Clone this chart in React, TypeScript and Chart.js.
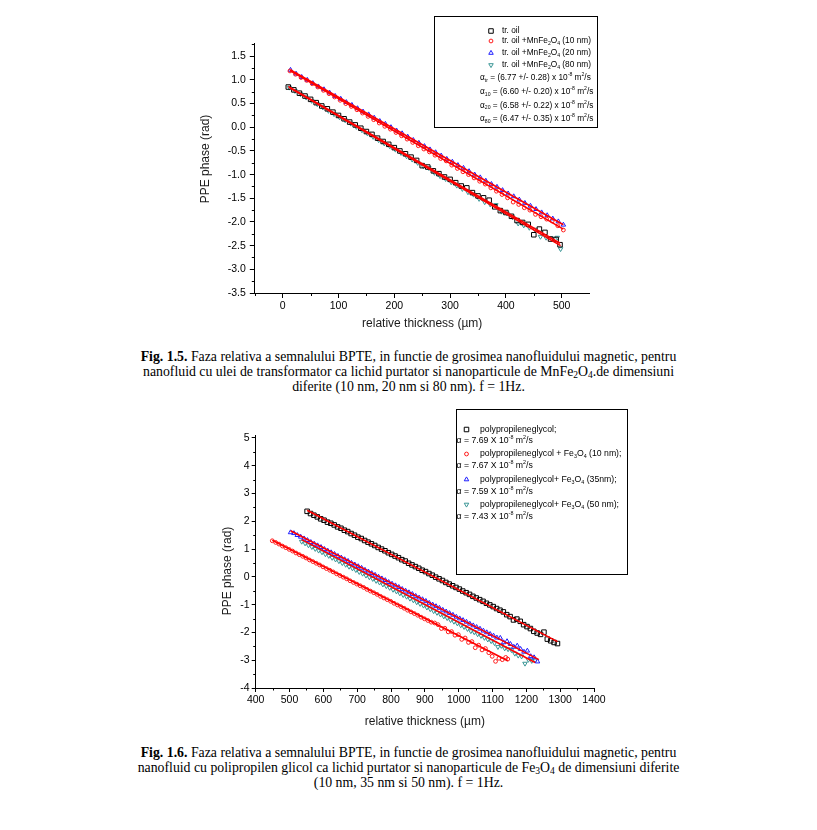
import React, { useEffect, useRef } from 'react';
import { Chart, registerables } from 'chart.js';

Chart.register(...registerables);

const FONT = "'Liberation Sans', Arial, Helvetica, sans-serif";

// ---------------- Fig. 1.5 data ----------------
const oilX = [10,20,30,40,50,60,70,80,90,100,110,120,130,140,150,160,170,180,190,200,210,220,230,240,250,260,270,280,290,300,310,320,330,340,350,360,370,380,390,400,410,420,430,440,450,460,470,480,490,497];
const oilY = [0.85,0.79,0.72,0.66,0.59,0.52,0.45,0.39,0.32,0.25,0.18,0.11,0.05,-0.02,-0.09,-0.15,-0.23,-0.30,-0.36,-0.43,-0.50,-0.56,-0.63,-0.70,-0.81,-0.84,-0.92,-0.98,-1.05,-1.10,-1.17,-1.24,-1.28,-1.38,-1.45,-1.49,-1.54,-1.68,-1.76,-1.80,-1.88,-1.97,-2.01,-2.05,-2.27,-2.15,-2.22,-2.36,-2.37,-2.48];
const mn10X = [13,23,33,43,53,63,73,83,93,103,113,123,133,143,153,163,173,183,193,203,213,223,233,243,253,263,273,283,293,303,313,323,333,343,353,363,373,383,393,403,413,423,433,443,453,463,473,483,493,503];
const mn10Y = [1.19,1.12,1.05,0.99,0.92,0.85,0.78,0.71,0.64,0.57,0.50,0.44,0.37,0.30,0.23,0.16,0.09,0.02,-0.04,-0.11,-0.18,-0.25,-0.32,-0.39,-0.46,-0.52,-0.59,-0.66,-0.71,-0.80,-0.87,-0.94,-1.00,-1.07,-1.14,-1.20,-1.28,-1.35,-1.42,-1.49,-1.58,-1.63,-1.70,-1.75,-1.84,-1.89,-1.94,-1.98,-2.08,-2.17];
const mn20X = [14,24,34,44,54,64,74,84,94,104,114,124,134,144,154,164,174,184,194,204,214,224,234,244,254,264,274,284,294,304,314,324,334,344,354,364,374,384,394,404,414,424,434,444,454,464,474,484,494,503];
const mn20Y = [1.21,1.13,1.06,1.00,0.93,0.86,0.80,0.73,0.66,0.60,0.53,0.47,0.40,0.33,0.27,0.20,0.13,0.07,0.00,-0.07,-0.13,-0.20,-0.27,-0.33,-0.40,-0.47,-0.53,-0.60,-0.67,-0.73,-0.80,-0.86,-0.93,-1.00,-1.06,-1.13,-1.20,-1.26,-1.33,-1.40,-1.46,-1.53,-1.60,-1.66,-1.73,-1.80,-1.86,-1.93,-1.99,-2.06];
const mn80X = [12,22,32,42,52,62,72,82,92,102,112,122,132,142,152,162,172,182,192,202,212,222,232,242,252,262,272,282,292,302,312,322,332,342,352,362,372,382,392,402,412,422,432,442,452,462,472,482,492,498];
const mn80Y = [0.84,0.77,0.70,0.63,0.56,0.49,0.42,0.35,0.28,0.21,0.15,0.08,0.01,-0.06,-0.13,-0.20,-0.27,-0.34,-0.40,-0.47,-0.54,-0.61,-0.68,-0.75,-0.82,-0.86,-0.96,-1.03,-1.09,-1.16,-1.23,-1.30,-1.37,-1.42,-1.51,-1.58,-1.63,-1.64,-1.78,-1.82,-1.90,-2.03,-2.07,-2.12,-2.16,-2.31,-2.33,-2.35,-2.33,-2.57];
// linear fits (start/end)
const oilFitX = [10, 497];
const oilFitY = [0.86, -2.45];
const mn10FitX = [13, 503];
const mn10FitY = [1.20, -2.15];
const mn20FitX = [14, 503];
const mn20FitY = [1.21, -2.06];
const mn80FitX = [12, 498];
const mn80FitY = [0.84, -2.50];

const fig5XTicks = [0, 100, 200, 300, 400, 500];
const fig5XMinor = [-50, 50, 150, 250, 350, 450];
const fig5YTicks = [-3.5, -3.0, -2.5, -2.0, -1.5, -1.0, -0.5, 0.0, 0.5, 1.0, 1.5];
const fig5YMinor = [-3.25, -2.75, -2.25, -1.75, -1.25, -0.75, -0.25, 0.25, 0.75, 1.25, 1.75];
const fig5Labels = ['tr. oil', 'tr. oil +MnFe_{2}O_{4} (10 nm)', 'tr. oil +MnFe_{2}O_{4} (20 nm)', 'tr. oil +MnFe_{2}O_{4} (80 nm)'];
const fig5Alphas = [
  'α_{tr} = (6.77 +/- 0.28) x 10^{-8} m^{2}/s',
  'α_{10} = (6.60 +/- 0.20) x 10^{-8} m^{2}/s',
  'α_{20} = (6.58 +/- 0.22) x 10^{-8} m^{2}/s',
  'α_{80} = (6.47 +/- 0.35) x 10^{-8} m^{2}/s',
];

// ---------------- Fig. 1.6 data ----------------
const ppgX = [552,562,572,582,592,602,612,622,632,642,652,662,672,682,692,702,712,722,732,742,752,762,772,782,792,802,812,822,832,842,852,862,872,882,892,902,912,922,932,942,952,962,972,982,992,1002,1012,1022,1032,1042,1052,1062,1072,1082,1092,1102,1112,1122,1132,1142,1152,1162,1172,1182,1192,1202,1212,1222,1232,1242,1252,1262,1272,1282,1292];
const ppgY = [2.36,2.28,2.22,2.16,2.09,2.04,1.97,1.93,1.87,1.80,1.75,1.68,1.63,1.56,1.50,1.43,1.38,1.31,1.25,1.19,1.13,1.06,1.00,0.94,0.87,0.81,0.75,0.69,0.62,0.57,0.49,0.43,0.37,0.31,0.24,0.19,0.12,0.06,-0.01,-0.07,-0.13,-0.20,-0.26,-0.32,-0.38,-0.44,-0.51,-0.57,-0.63,-0.70,-0.76,-0.82,-0.88,-0.95,-1.01,-1.07,-1.14,-1.20,-1.26,-1.36,-1.43,-1.55,-1.52,-1.60,-1.72,-1.79,-1.86,-1.96,-2.02,-2.07,-1.99,-2.24,-2.30,-2.36,-2.40];
const fe10X = [449,459,469,479,489,499,509,519,529,539,549,559,569,579,589,599,609,619,629,639,649,659,669,679,689,699,709,719,729,739,749,759,769,779,789,799,809,819,829,839,849,859,869,879,889,899,909,919,929,939,949,959,969,979,989,999,1009,1019,1029,1039,1049,1059,1069,1079,1089,1099,1109,1119,1129,1139,1145];
const fe10Y = [1.30,1.24,1.18,1.11,1.05,0.99,0.93,0.86,0.80,0.74,0.68,0.61,0.55,0.49,0.43,0.36,0.30,0.24,0.18,0.11,0.05,-0.01,-0.07,-0.14,-0.20,-0.26,-0.32,-0.38,-0.45,-0.51,-0.57,-0.63,-0.70,-0.76,-0.82,-0.88,-0.95,-1.01,-1.07,-1.13,-1.20,-1.26,-1.32,-1.38,-1.45,-1.51,-1.57,-1.63,-1.66,-1.72,-1.86,-1.85,-1.98,-1.97,-2.10,-2.08,-2.25,-2.20,-2.36,-2.33,-2.55,-2.46,-2.63,-2.58,-2.73,-2.86,-3.04,-2.93,-2.98,-2.90,-2.96];
const fe35X = [503,513,523,533,543,553,563,573,583,593,603,613,623,633,643,653,663,673,683,693,703,713,723,733,743,753,763,773,783,793,803,813,823,833,843,853,863,873,883,893,903,913,923,933,943,953,963,973,983,993,1003,1013,1023,1033,1043,1053,1063,1073,1083,1093,1103,1113,1123,1133,1143,1153,1163,1173,1183,1193,1203,1213,1223,1233];
const fe35Y = [1.60,1.57,1.50,1.44,1.38,1.32,1.25,1.19,1.13,1.07,1.00,0.94,0.88,0.82,0.75,0.69,0.63,0.57,0.50,0.44,0.38,0.32,0.25,0.19,0.13,0.07,0.00,-0.06,-0.12,-0.19,-0.25,-0.31,-0.37,-0.44,-0.50,-0.56,-0.62,-0.69,-0.75,-0.81,-0.87,-0.94,-1.00,-1.06,-1.12,-1.19,-1.25,-1.31,-1.37,-1.44,-1.50,-1.56,-1.62,-1.69,-1.75,-1.81,-1.87,-1.94,-2.00,-2.06,-2.12,-2.19,-2.20,-2.36,-2.32,-2.42,-2.52,-2.48,-2.60,-2.70,-2.66,-2.86,-2.90,-3.05];
const fe50X = [536,546,556,566,576,586,596,606,616,626,636,646,656,666,676,686,696,706,716,726,736,746,756,766,776,786,796,806,816,826,836,846,856,866,876,886,896,906,916,926,936,946,956,966,976,986,996,1006,1016,1026,1036,1046,1056,1066,1076,1086,1096,1106,1116,1126,1136,1146,1156,1166,1176,1186,1196,1206,1216,1226];
const fe50Y = [1.27,1.21,1.14,1.08,1.01,0.95,0.89,0.82,0.76,0.69,0.63,0.57,0.50,0.44,0.37,0.31,0.25,0.18,0.12,0.05,-0.01,-0.07,-0.14,-0.20,-0.27,-0.33,-0.39,-0.46,-0.52,-0.59,-0.65,-0.71,-0.78,-0.84,-0.91,-0.97,-1.03,-1.10,-1.16,-1.23,-1.29,-1.35,-1.42,-1.48,-1.55,-1.61,-1.67,-1.74,-1.80,-1.87,-1.95,-1.99,-2.06,-2.12,-2.19,-2.25,-2.31,-2.38,-2.52,-2.48,-2.57,-2.60,-2.63,-2.76,-2.83,-2.86,-3.12,-2.98,-3.02,-3.00];
const ppgFitX = [552, 1292];
const ppgFitY = [2.40, -2.33];
const fe10FitX = [449, 1145];
const fe10FitY = [1.32, -3.02];
const fe35FitX = [503, 1237];
const fe35FitY = [1.66, -2.98];
const fe50FitX = [536, 1226];
const fe50FitY = [1.34, -3.08];

const fig6XTicks = [400, 500, 600, 700, 800, 900, 1000, 1100, 1200, 1300, 1400];
const fig6XMinor = [450, 550, 650, 750, 850, 950, 1050, 1150, 1250, 1350];
const fig6YTicks = [-4, -3, -2, -1, 0, 1, 2, 3, 4, 5];
const fig6YMinor = [-3.5, -2.5, -1.5, -0.5, 0.5, 1.5, 2.5, 3.5, 4.5];
const fig6Labels = ['polypropileneglycol;', 'polypropileneglycol + Fe_{3}O_{4} (10 nm);', 'polypropileneglycol+ Fe_{3}O_{4} (35nm);', 'polypropileneglycol+ Fe_{3}O_{4} (50 nm);'];
const fig6Alphas = ['α = 7.69 X 10^{-8} m^{2}/s', 'α = 7.67 X 10^{-8} m^{2}/s', 'α = 7.59 X 10^{-8} m^{2}/s', 'α = 7.43 X 10^{-8} m^{2}/s'];

const BLACK = '#000000';
const RED = '#ff1a1a';
const BLUE = '#1f1fff';
const TEAL = '#3a9696';

// ---------------- helpers ----------------
const pts = (xs: number[], ys: number[]) => xs.map((x, i) => ({ x, y: ys[i] }));

function drawRich(ctx: CanvasRenderingContext2D, text: string, x: number, y: number, size: number) {
  const re = /([_^])\{([^}]*)\}/g;
  const segs: { t: string; k: string }[] = [];
  let last = 0;
  let m: RegExpExecArray | null;
  while ((m = re.exec(text))) {
    if (m.index > last) segs.push({ t: text.slice(last, m.index), k: '' });
    segs.push({ t: m[2], k: m[1] });
    last = re.lastIndex;
  }
  if (last < text.length) segs.push({ t: text.slice(last), k: '' });
  let cx = x;
  for (const s of segs) {
    const fs = s.k ? size * 0.62 : size;
    ctx.font = `${fs}px ${FONT}`;
    const dy = s.k === '_' ? size * 0.3 : s.k === '^' ? -size * 0.38 : 0;
    ctx.fillText(s.t, cx, y + dy);
    cx += ctx.measureText(s.t).width;
  }
}

function drawMarker(ctx: CanvasRenderingContext2D, shape: string, x: number, y: number, r: number, color: string) {
  ctx.save();
  ctx.strokeStyle = color;
  ctx.lineWidth = 1;
  ctx.beginPath();
  if (shape === 'rect') {
    const s = r * Math.SQRT1_2;
    ctx.rect(x - s, y - s, 2 * s, 2 * s);
  } else if (shape === 'circle') {
    ctx.arc(x, y, r, 0, Math.PI * 2);
  } else {
    const d = shape === 'triangle' ? 1 : -1;
    ctx.moveTo(x, y - d * r);
    ctx.lineTo(x + 0.866 * r, y + d * 0.5 * r);
    ctx.lineTo(x - 0.866 * r, y + d * 0.5 * r);
    ctx.closePath();
  }
  ctx.stroke();
  ctx.restore();
}

const overlayPlugin = {
  id: 'overlay',
  afterDraw(chart: any, _args: any, o: any) {
    const { ctx, chartArea, scales } = chart;
    ctx.save();
    ctx.strokeStyle = '#000';
    ctx.lineWidth = 1;
    ctx.beginPath();
    for (const v of o.minorX) {
      const px = Math.round(scales.x.getPixelForValue(v)) + 0.5;
      ctx.moveTo(px, chartArea.bottom);
      ctx.lineTo(px, chartArea.bottom + o.minorLen);
    }
    for (const v of o.minorY) {
      const py = Math.round(scales.y.getPixelForValue(v)) + 0.5;
      ctx.moveTo(chartArea.left - o.minorLen, py);
      ctx.lineTo(chartArea.left, py);
    }
    ctx.stroke();

    ctx.save();
    ctx.translate(o.yTitle.x, o.yTitle.y);
    ctx.rotate(-Math.PI / 2);
    ctx.font = `12px ${FONT}`;
    ctx.fillStyle = '#1a1a1a';
    ctx.textAlign = 'center';
    ctx.textBaseline = 'middle';
    ctx.fillText(o.yTitle.text, 0, 0);
    ctx.restore();

    const lg = o.legend;
    const [l, t, r, b] = lg.box;
    ctx.strokeStyle = '#000';
    ctx.lineWidth = 1;
    ctx.strokeRect(l + 0.5, t + 0.5, r - l, b - t);
    ctx.textBaseline = 'middle';
    ctx.textAlign = 'left';
    ctx.fillStyle = '#000';
    lg.labels.forEach((txt: string, i: number) => {
      drawMarker(ctx, lg.markers[i].shape, lg.mx, lg.labelY[i], lg.markers[i].r, lg.markers[i].color);
      drawRich(ctx, txt, lg.tx, lg.labelY[i], lg.size);
    });
    lg.alphas.forEach((txt: string, i: number) => {
      drawRich(ctx, txt, lg.ax, lg.alphaY[i], lg.size);
    });
    ctx.restore();
  },
};

const markerStyles = [
  { shape: 'rect', r: 3.2, color: BLACK, rot: 0 },
  { shape: 'circle', r: 1.9, color: RED, rot: 0 },
  { shape: 'triangle', r: 2.6, color: BLUE, rot: 0 },
  { shape: 'down', r: 2.6, color: TEAL, rot: 180 },
];

function scatterSet(xs: number[], ys: number[], k: number) {
  const s = markerStyles[k];
  return {
    data: pts(xs, ys),
    showLine: false,
    pointStyle: s.shape === 'down' ? 'triangle' : s.shape,
    pointRotation: s.rot,
    pointRadius: s.r,
    pointBorderWidth: 1,
    pointBorderColor: s.color,
    pointBackgroundColor: 'rgba(0,0,0,0)',
    order: 2,
  };
}

function fitSet(xs: number[], ys: number[]) {
  return {
    data: pts(xs, ys),
    showLine: true,
    borderColor: '#ff0000',
    borderWidth: 1.6,
    pointRadius: 0,
    order: 1,
  };
}

function makeConfig(p: any) {
  const tickFont = { family: FONT, size: 10.5 };
  return {
    type: 'scatter',
    data: { datasets: p.datasets },
    options: {
      responsive: false,
      animation: false,
      devicePixelRatio: 1,
      layout: { padding: p.padding },
      plugins: {
        legend: { display: false },
        tooltip: { enabled: false },
        overlay: p.overlay,
      },
      scales: {
        x: {
          type: 'linear',
          min: p.xMin,
          max: p.xMax,
          afterBuildTicks: (s: any) => { s.ticks = p.xTicks.map((v: number) => ({ value: v })); },
          afterFit: (s: any) => { s.height = p.xHeight; },
          ticks: { font: tickFont, color: '#000', padding: p.xPad, maxRotation: 0, autoSkip: false, callback: (v: any) => String(v) },
          grid: { drawOnChartArea: false, drawTicks: true, tickLength: p.tickLen, color: '#000' },
          border: { display: true, color: '#000', width: 1 },
          title: { display: true, text: 'relative thickness (µm)', font: { family: FONT, size: 12 }, color: '#1a1a1a', padding: 0 },
        },
        y: {
          type: 'linear',
          min: p.yMin,
          max: p.yMax,
          afterBuildTicks: (s: any) => { s.ticks = p.yTicks.map((v: number) => ({ value: v })); },
          afterFit: (s: any) => { s.width = 50; },
          ticks: { font: tickFont, color: '#000', padding: p.yPad, autoSkip: false, callback: p.yFmt },
          grid: { drawOnChartArea: false, drawTicks: true, tickLength: p.tickLen, color: '#000' },
          border: { display: true, color: '#000', width: 1 },
          title: { display: false },
        },
      },
    },
    plugins: [overlayPlugin],
  };
}

const fig5Config = () => makeConfig({
  datasets: [
    fitSet(oilFitX, oilFitY), fitSet(mn10FitX, mn10FitY), fitSet(mn20FitX, mn20FitY), fitSet(mn80FitX, mn80FitY),
    scatterSet(oilX, oilY, 0), scatterSet(mn10X, mn10Y, 1), scatterSet(mn20X, mn20Y, 2), scatterSet(mn80X, mn80Y, 3),
  ],
  padding: { left: 204.8, right: 227.4, top: 43, bottom: 14.5 },
  xMin: -50, xMax: 550, yMin: -3.5, yMax: 1.78,
  xTicks: fig5XTicks, yTicks: fig5YTicks,
  xHeight: 37.5, xPad: 2, yPad: 4, tickLen: 5,
  yFmt: (v: any) => Number(v).toFixed(1),
  overlay: {
    minorX: fig5XMinor, minorY: fig5YMinor, minorLen: 3,
    yTitle: { text: 'PPE phase (rad)', x: 205.6, y: 159 },
    legend: {
      box: [434, 16, 597, 127], mx: 491, tx: 502, ax: 480, size: 8.3,
      labels: fig5Labels, labelY: [31, 41, 53, 65], markers: markerStyles,
      alphas: fig5Alphas, alphaY: [78, 92, 105.5, 119],
    },
  },
});

const fig6Config = () => makeConfig({
  datasets: [
    fitSet(ppgFitX, ppgFitY), fitSet(fe10FitX, fe10FitY), fitSet(fe35FitX, fe35FitY), fitSet(fe50FitX, fe50FitY),
    scatterSet(ppgX, ppgY, 0), scatterSet(fe10X, fe10Y, 1), scatterSet(fe35X, fe35Y, 2), scatterSet(fe50X, fe50Y, 3),
  ],
  padding: { left: 205.7, right: 223, top: 35.2, bottom: 11.1 },
  xMin: 400, xMax: 1400, yMin: -4, yMax: 5.1,
  xTicks: fig6XTicks, yTicks: fig6YTicks,
  xHeight: 40.9, xPad: 2, yPad: 2, tickLen: 4,
  yFmt: (v: any) => String(v),
  overlay: {
    minorX: fig6XMinor, minorY: fig6YMinor, minorLen: 2.5,
    yTitle: { text: 'PPE phase (rad)', x: 227.5, y: 171 },
    legend: {
      box: [456, 9, 627, 174], mx: 466.5, tx: 480, ax: 456.5, size: 8.7,
      labels: fig6Labels, labelY: [29.5, 54, 79.5, 104.5], markers: markerStyles,
      alphas: fig6Alphas, alphaY: [41, 66, 92, 117],
    },
  },
});

function ChartCanvas({ makeCfg, top, height }: { makeCfg: () => any; top: number; height: number }) {
  const ref = useRef<HTMLCanvasElement>(null);
  useEffect(() => {
    const chart = new Chart(ref.current as HTMLCanvasElement, makeCfg());
    return () => chart.destroy();
  }, []);
  return (
    <canvas
      ref={ref}
      width={817}
      height={height}
      style={{ position: 'absolute', left: 0, top, width: 817, height }}
    />
  );
}

const capStyle: React.CSSProperties = {
  position: 'absolute',
  left: 0,
  width: 817,
  textAlign: 'center',
  fontFamily: "'Liberation Serif', 'Times New Roman', serif",
  fontSize: 13.8,
  lineHeight: '15px',
  color: '#000',
  whiteSpace: 'nowrap',
};
const subStyle: React.CSSProperties = { fontSize: 9.5, verticalAlign: -2, lineHeight: 0 };

export default function App() {
  return (
    <div style={{ position: 'absolute', left: 0, top: 0, width: 817, height: 830, background: '#fff', overflow: 'hidden' }}>
      <ChartCanvas makeCfg={fig5Config} top={0} height={345} />
      <div style={{ ...capStyle, top: 348.5 }}>
        <div><b>Fig. 1.5.</b> Faza relativa a semnalului BPTE, in functie de grosimea nanofluidului magnetic, pentru</div>
        <div>nanofluid cu ulei de transformator ca lichid purtator si nanoparticule de MnFe<span style={subStyle}>2</span>O<span style={subStyle}>4</span>.de dimensiuni</div>
        <div>diferite (10 nm, 20 nm si 80 nm). f = 1Hz.</div>
      </div>
      <ChartCanvas makeCfg={fig6Config} top={400} height={340} />
      <div style={{ ...capStyle, top: 744.5 }}>
        <div><b>Fig. 1.6.</b> Faza relativa a semnalului BPTE, in functie de grosimea nanofluidului magnetic, pentru</div>
        <div>nanofluid cu polipropilen glicol ca lichid purtator si nanoparticule de Fe<span style={subStyle}>3</span>O<span style={subStyle}>4</span> de dimensiuni diferite</div>
        <div>(10 nm, 35 nm si 50 nm). f = 1Hz.</div>
      </div>
    </div>
  );
}
